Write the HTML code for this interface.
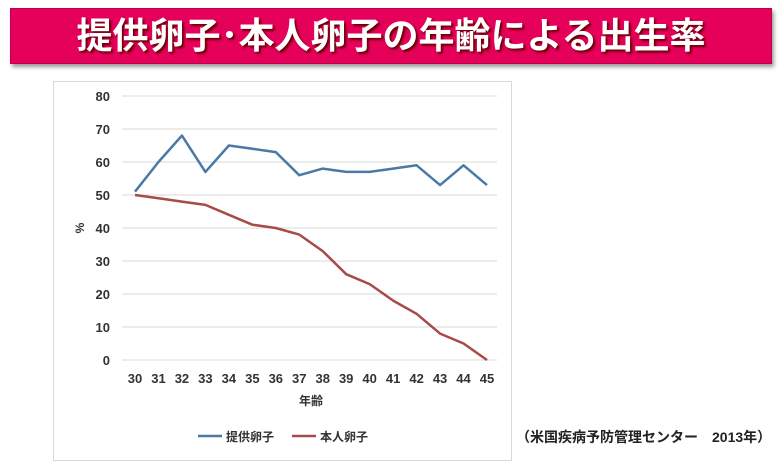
<!DOCTYPE html>
<html><head><meta charset="utf-8"><style>
body{margin:0;width:780px;height:450px;background:#fff;overflow:hidden;position:relative;font-family:"Liberation Sans","Noto Sans CJK JP",sans-serif;}
#banner{position:absolute;left:10px;top:8px;width:762px;height:56px;background:#e5005a;box-shadow:2px 3px 4px #999;border:1px solid #c0004a;box-sizing:border-box;color:#fff;font-size:36px;font-weight:bold;text-align:center;line-height:54px;text-shadow:2px 2px 2px #600;letter-spacing:0px;}
#frame{position:absolute;left:53px;top:81px;width:459px;height:380px;border:1px solid #d9d9d9;box-sizing:border-box;}
#note{position:absolute;left:516px;top:427px;font-size:14px;font-weight:bold;color:#222;}
</style></head><body>
<div id="banner">提供卵子･本人卵子の年齢による出生率</div>
<div id="frame"></div>
<svg id="chart" width="780" height="450" style="position:absolute;left:0;top:0" font-family="Liberation Sans, Noto Sans CJK JP, sans-serif"></svg>
<div id="note">（米国疾病予防管理センター　2013年）</div>
<script>
const ages=[30,31,32,33,34,35,36,37,38,39,40,41,42,43,44,45];
const donor=[51,60,68,57,65,64,63,56,58,57,57,58,59,53,59,53];
const own=[50,49,48,47,44,41,40,38,33,26,23,18,14,8,5,0];
const yTicks=[0,10,20,30,40,50,60,70,80];
const svg=document.getElementById('chart');
const NS='http://www.w3.org/2000/svg';
const x=i=>135+i*(487-135)/(ages.length-1);
const y=v=>360-v*(360-96)/80;
function mk(t,a){const e=document.createElementNS(NS,t);for(const k in a)e.setAttribute(k,a[k]);svg.appendChild(e);return e;}
yTicks.forEach(v=>{
 const g=mk('line',{x1:122,x2:497,y1:y(v),y2:y(v),stroke:'#d9d9d9','stroke-width':1});
 
 
 const t=mk('text',{x:110,y:y(v)+5,'text-anchor':'end','font-size':13,'font-weight':'bold',fill:'#333'});
 t.textContent=v;
 
 
});
ages.forEach((a,i)=>{
 const t=mk('text',{x:x(i),y:383,'text-anchor':'middle','font-size':13,'font-weight':'bold',fill:'#333'});
 t.textContent=a;
 
 
});
const yt=mk('text',{x:0,y:0,'font-size':12,'font-weight':'bold',fill:'#333',transform:'translate(84,228) rotate(-90)','text-anchor':'middle'});
yt.textContent='%';


const xt=mk('text',{x:311,y:405,'text-anchor':'middle','font-size':12,'font-weight':'bold',fill:'#333'});
xt.textContent='年齢';


function series(d,c,n){
 const p=mk('polyline',{points:d.map((v,i)=>x(i)+','+y(v)).join(' '),fill:'none',stroke:c,'stroke-width':2.5,'stroke-linejoin':'round'});
 
 
}
series(own,'#a84a47','series-own-eggs');
series(donor,'#4b79a6','series-donor-eggs');
function legend(x0,c,label,n){
 const l=mk('line',{x1:x0,x2:x0+24,y1:436,y2:436,stroke:c,'stroke-width':2.5});
 
 
 const t=mk('text',{x:x0+28,y:441,'font-size':12,'font-weight':'bold',fill:'#333'});
 t.textContent=label;
 
 
}
legend(198,'#4b79a6','提供卵子','legend-donor');
legend(292,'#a84a47','本人卵子','legend-own');
</script>
</body></html>
